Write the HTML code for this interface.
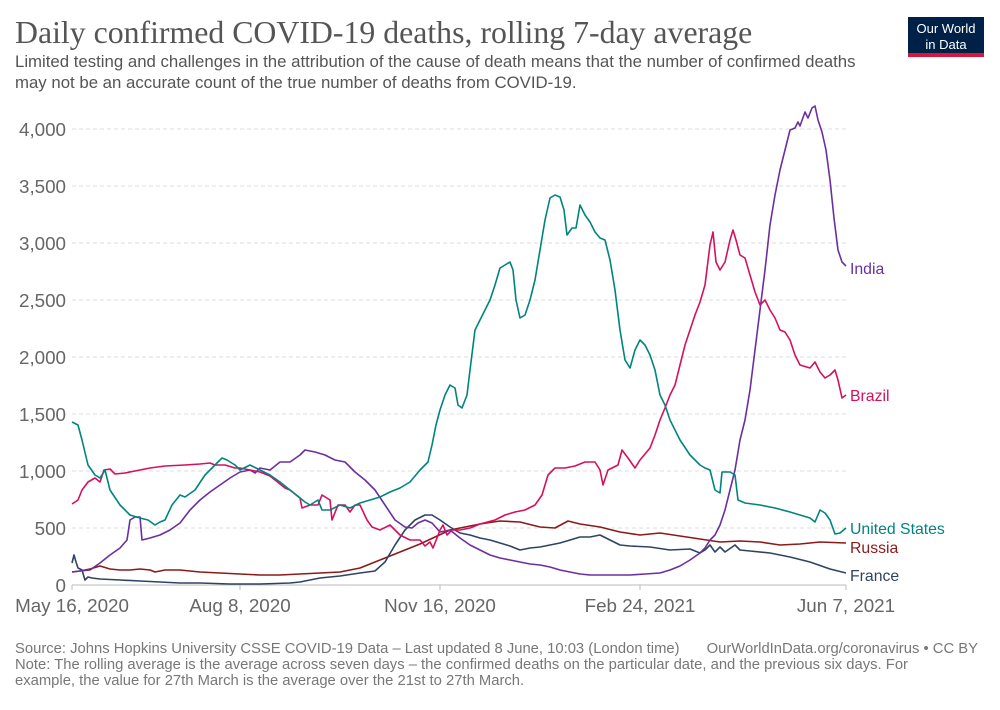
<!DOCTYPE html>
<html><head><meta charset="utf-8"><style>
body{margin:0;background:#fff;width:1000px;height:705px;overflow:hidden;font-family:"Liberation Sans",sans-serif}
</style></head><body>
<svg width="1000" height="705" xmlns="http://www.w3.org/2000/svg" font-family="Liberation Sans, sans-serif">
<text x="15" y="43" font-family="Liberation Serif, serif" font-size="31.8" fill="#555">Daily confirmed COVID-19 deaths, rolling 7-day average</text>
<text x="15" y="67" font-size="16.8" fill="#555">Limited testing and challenges in the attribution of the cause of death means that the number of confirmed deaths</text>
<text x="15" y="88" font-size="16.8" fill="#555">may not be an accurate count of the true number of deaths from COVID-19.</text>
<rect x="908" y="17" width="76" height="39" fill="#002147"/>
<rect x="908" y="53" width="76" height="4" fill="#dc143c"/>
<text x="946" y="33" font-size="13" fill="#fff" text-anchor="middle">Our World</text>
<text x="946" y="49" font-size="13" fill="#fff" text-anchor="middle">in Data</text>
<g stroke="#ddd" stroke-dasharray="4,3" stroke-width="1">
<line x1="72" x2="846" y1="129" y2="129"/><line x1="72" x2="846" y1="186" y2="186"/><line x1="72" x2="846" y1="243" y2="243"/><line x1="72" x2="846" y1="300" y2="300"/><line x1="72" x2="846" y1="357" y2="357"/><line x1="72" x2="846" y1="414" y2="414"/><line x1="72" x2="846" y1="471" y2="471"/><line x1="72" x2="846" y1="528" y2="528"/>
</g>
<line x1="72" x2="846" y1="585" y2="585" stroke="#bbb"/>
<g stroke="#bbb"><line x1="72" x2="72" y1="585" y2="590"/><line x1="240" x2="240" y1="585" y2="590"/><line x1="440" x2="440" y1="585" y2="590"/><line x1="640" x2="640" y1="585" y2="590"/><line x1="846" x2="846" y1="585" y2="590"/></g>
<g font-size="18.8" fill="#666" text-anchor="end">
<text x="66" y="136">4,000</text><text x="66" y="193">3,500</text><text x="66" y="250">3,000</text><text x="66" y="307">2,500</text><text x="66" y="364">2,000</text><text x="66" y="421">1,500</text><text x="66" y="478">1,000</text><text x="66" y="535">500</text><text x="66" y="592">0</text>
</g>
<g font-size="18.8" fill="#666" text-anchor="middle">
<text x="72" y="612">May 16, 2020</text><text x="240" y="612">Aug 8, 2020</text><text x="440" y="612">Nov 16, 2020</text><text x="640" y="612">Feb 24, 2021</text><text x="846" y="612">Jun 7, 2021</text>
</g>
<g fill="none" stroke-width="1.6" stroke-linejoin="round">
<polyline stroke="#8b1a1a" points="72,572 80,571 90,569 100,566 110,569 120,570 130,570 140,569 150,570 155,572 165,570 180,570 200,572 220,573 240,574 260,575 280,575 300,574 320,573 340,572 360,568 375,562 390,556 405,550 420,544 435,537 450,530 465,527 480,524 500,521 520,522 540,527 555,528 568,521 580,524 600,527 620,532 640,535 660,533 680,536 700,539 720,542 740,541 760,542 780,545 800,544 820,542 846,543"/>
<polyline stroke="#2e4463" points="72,563 74,555 76,562 78,568 82,570 85,580 88,577 92,578 100,579 120,580 140,581 160,582 180,583 200,583 230,584 260,584 290,583 300,582 310,580 320,578 340,576 360,573 375,571 385,562 395,545 405,530 415,520 425,515 432,515 440,520 450,527 460,533 470,535 480,538 490,540 500,543 510,546 520,550 530,548 540,547 550,545 560,543 570,540 580,537 590,537 600,535 610,540 620,545 630,546 650,547 670,550 690,549 700,553 705,550 710,545 715,552 720,547 725,552 735,545 740,550 750,551 770,553 790,557 810,562 830,569 846,573"/>
<polyline stroke="#6b2fa0" points="72,572 80,571 90,570 100,563 110,555 120,548 127,540 130,520 135,517 140,517 142,540 150,538 160,535 170,530 180,523 190,510 200,500 210,492 220,485 230,478 240,472 250,470 255,473 260,468 270,470 280,462 290,462 300,455 305,450 315,452 325,455 335,460 345,462 355,472 365,480 375,490 385,505 395,520 405,527 412,528 418,523 425,520 432,523 440,532 450,530 460,538 470,545 480,550 490,555 500,558 510,560 520,562 530,564 540,565 550,567 560,570 570,572 580,574 590,575 610,575 630,575 645,574 660,573 670,570 680,566 690,560 700,553 705,548 710,540 715,535 720,525 725,510 730,490 735,470 740,440 745,420 750,390 755,350 760,310 765,270 770,225 775,195 780,170 785,150 790,130 795,128 798,122 800,126 805,112 808,118 812,108 815,106 818,120 822,132 826,150 830,180 834,218 838,250 842,262 846,266"/>
<polyline stroke="#d6105e" points="72,504 78,500 82,490 88,482 95,478 100,482 104,470 110,469 115,474 125,473 140,470 150,468 165,466 185,465 200,464 210,463 215,465 225,465 235,468 240,468 250,470 260,472 270,476 280,484 285,488 290,490 300,498 302,508 310,505 318,505 322,495 330,500 332,520 338,505 345,505 350,512 355,505 360,505 367,520 372,527 380,530 390,525 400,535 410,540 420,540 425,546 430,542 433,548 437,538 440,530 443,525 447,535 452,530 460,530 470,528 480,524 495,520 505,515 515,512 525,510 535,505 542,495 548,475 555,468 565,468 575,466 585,462 595,462 600,470 603,485 608,470 618,465 622,450 628,458 635,468 640,460 650,448 655,435 660,420 665,408 670,395 675,385 680,365 685,345 690,330 695,315 700,302 705,285 710,245 713,232 716,262 720,270 725,262 730,240 733,230 736,240 740,255 745,258 750,275 755,292 760,305 765,300 770,310 775,318 780,330 785,332 790,340 795,355 800,365 810,368 815,362 820,372 825,378 830,375 835,370 838,380 842,398 846,395"/>
<polyline stroke="#00847e" points="72,422 78,425 82,440 88,465 95,475 100,478 105,470 110,490 120,505 130,515 140,518 148,520 155,525 160,522 165,520 172,505 180,495 185,497 195,490 205,475 215,465 222,458 227,460 235,465 240,470 250,465 260,470 270,475 280,482 290,490 300,498 305,502 310,505 318,500 322,510 330,510 340,505 350,508 360,503 370,500 380,497 390,492 400,488 410,482 420,470 428,462 432,445 436,425 440,410 445,395 450,385 455,388 458,405 462,408 467,395 470,370 475,330 480,320 485,310 490,300 495,285 500,268 505,265 510,262 513,270 516,300 520,318 525,315 530,300 535,280 540,250 545,220 550,198 555,195 560,197 564,210 567,235 572,228 576,228 580,205 585,215 590,222 595,232 600,238 605,240 610,260 615,290 620,330 625,360 630,368 635,350 640,340 645,345 650,355 655,370 660,395 665,405 670,420 680,440 690,455 700,465 705,468 710,470 715,490 720,493 722,472 730,472 735,475 738,500 745,503 760,505 775,508 790,512 800,515 810,518 815,522 820,510 825,513 830,520 835,534 840,533 846,528"/>
</g>
<g font-size="15.8">
<text x="850" y="274" fill="#6b2fa0">India</text>
<text x="850" y="401" fill="#d6105e">Brazil</text>
<text x="850" y="534" fill="#00847e">United States</text>
<text x="850" y="553" fill="#8b1a1a">Russia</text>
<text x="850" y="581" fill="#2e4463">France</text>
</g>
<g font-size="14.8" fill="#777">
<text x="15" y="653">Source: Johns Hopkins University CSSE COVID-19 Data – Last updated 8 June, 10:03 (London time)</text>
<text x="978" y="653" text-anchor="end">OurWorldInData.org/coronavirus • CC BY</text>
<text x="15" y="669">Note: The rolling average is the average across seven days – the confirmed deaths on the particular date, and the previous six days. For</text>
<text x="15" y="685">example, the value for 27th March is the average over the 21st to 27th March.</text>
</g>
</svg>
</body></html>
